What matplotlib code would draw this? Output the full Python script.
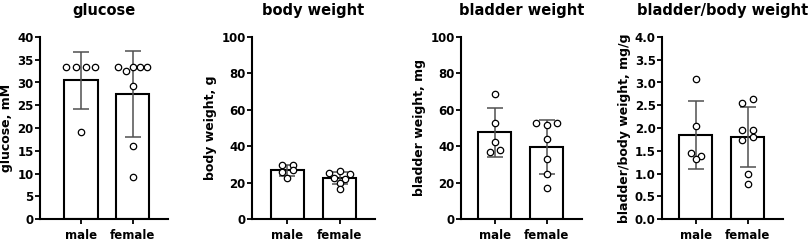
import numpy as np
import matplotlib
matplotlib.use("Agg")
import matplotlib.pyplot as plt

plt.rcParams['font.family'] = 'DejaVu Sans'
plt.rcParams['font.weight'] = 'bold'

groups = ['male', 'female']

glucose_male = [33.3, 33.3, 33.3, 33.3, 19.1]
glucose_female = [33.3, 32.6, 33.3, 33.3, 33.3, 29.2, 16.1, 9.3]
bw_male = [29.5, 29.8, 25.8, 26.8, 22.3]
bw_female = [25.4, 26.4, 25.0, 22.7, 22.0, 20.0, 16.3]
bladder_male = [68.9, 52.7, 42.1, 36.8, 37.9]
bladder_female = [52.9, 51.8, 52.9, 44.0, 33.0, 24.9, 16.8]
ratio_male = [3.08, 2.04, 1.44, 1.38, 1.32]
ratio_female = [2.56, 2.64, 1.95, 1.96, 1.73, 1.80, 0.98, 0.78]

titles = ['glucose', 'body weight', 'bladder weight', 'bladder/body weight']
ylabels = ['glucose, mM', 'body weight, g', 'bladder weight, mg',
           'bladder/body weight, mg/g']
yticks = [np.arange(0, 41, 5), np.arange(0, 101, 20), np.arange(0, 101, 20),
          np.arange(0, 4.01, 0.5)]
panels = [(glucose_male, glucose_female), (bw_male, bw_female),
          (bladder_male, bladder_female), (ratio_male, ratio_female)]

W, H = 809, 243
# axes boxes in pixels: left, right, xlim left
boxes = [(40, 168, -0.79), (252, 375, -0.68), (461, 582, -0.65), (662, 783, -0.65)]
top_px, bot_px = 37, 219


def swarm_offsets(vals, ymax, thr_px=4.5, axis_px=182):
    # group points that would overlap into rows and spread them sideways
    vals = np.asarray(vals, float)
    thr = thr_px * ymax / axis_px
    order = sorted(range(len(vals)), key=lambda i: -vals[i])
    rows, cur = [], []
    for i in order:
        if cur and vals[cur[0]] - vals[i] > thr:
            rows.append(cur)
            cur = []
        cur.append(i)
    rows.append(cur)
    off = np.zeros(len(vals))
    for r in rows:
        r = sorted(r)
        n = len(r)
        if n > 1:
            step = min(0.2, 0.56 / (n - 1))
            for k, i in enumerate(r):
                off[i] = (k - (n - 1) / 2) * step
    return off


fig = plt.figure(figsize=(W / 100, H / 100), dpi=100)

for p, (m, f) in enumerate(panels):
    l, r, xl = boxes[p]
    ax = fig.add_axes([l / W, 1 - bot_px / H, (r - l) / W, (bot_px - top_px) / H])
    ymax = yticks[p][-1]
    for x, vals in enumerate([m, f]):
        v = np.array(vals)
        mean, sd = v.mean(), v.std(ddof=1)
        ax.bar(x, mean, width=0.64, color='white', edgecolor='black',
               linewidth=1.5, zorder=1)
        ax.errorbar(x, mean, yerr=sd, color='#505050', elinewidth=1.1,
                    capsize=6, capthick=1.1, zorder=2)
        ax.plot(x + swarm_offsets(v, ymax), v, 'o', ms=4.6, mfc='white',
                mec='black', mew=0.9, zorder=3, clip_on=False)
    ax.set_xlim(xl, 1.68)
    ax.set_ylim(0, ymax)
    ax.set_yticks(yticks[p])
    if p == 3:
        ax.set_yticklabels([f'{t:.1f}' for t in yticks[p]])
    ax.set_xticks([0, 1])
    ax.set_xticklabels(groups)
    for s in ['top', 'right']:
        ax.spines[s].set_visible(False)
    for s in ['left', 'bottom']:
        ax.spines[s].set_linewidth(1.5)
    ax.tick_params(axis='both', length=3.5, width=1.3, labelsize=8.5)
    ax.tick_params(axis='y', pad=1)
    ax.tick_params(axis='x', pad=4)
    ax.set_ylabel(ylabels[p], fontsize=9, fontweight='bold', labelpad=3)
    ax.set_title(titles[p], fontsize=10.5, fontweight='bold', pad=16)

fig.savefig('out.png', dpi=100)
